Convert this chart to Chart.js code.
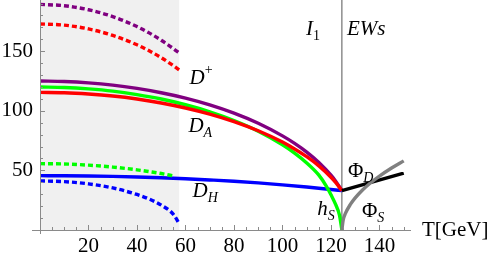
<!DOCTYPE html>
<html><head><meta charset="utf-8">
<script src="https://cdn.jsdelivr.net/npm/chart.js@4/dist/chart.umd.min.js"></script>
<style>html,body{margin:0;padding:0;background:#fff}#wrap{width:498px;height:261px;position:relative}</style>
</head><body><div id="wrap"><canvas id="c"></canvas></div>
<script>
// temperatures (GeV)
const tMain   = [0,10,20,30,40,50,60,70,80,90,100,105,110,115,120,122,124.5];
const dPlus   = [125,124.6,123.5,121.6,118.8,115.2,110.7,105.0,98.1,89.6,79.0,72.7,65.4,56.7,46.0,40.8,33];
const dA      = [115.5,115.2,114.1,112.4,109.9,106.6,102.4,97.3,91.0,83.3,73.8,68.0,61.5,53.8,44.3,39.8,33];
const tGreen  = [0,10,20,30,40,50,60,70,80,90,100,105,110,115,118,120,122,123.5,124.5];
const hS      = [120,119.6,118.4,116.5,113.6,109.9,105.1,99.2,91.9,82.9,71.5,64.5,56.2,46.0,37,29.5,21,12.5,0];
const tBlue   = [0,10,20,30,40,50,60,70,80,90,100,110,120,124.5];
const dH      = [45.6,45.5,45.3,45.0,44.5,43.8,43.0,42.0,40.9,39.5,37.9,36.1,34.0,33];
const tDash   = [0,10,20,30,40,45,50,55,57.5];
const dPlusI  = [189.3,188.2,184.8,179.1,170.7,165.4,159.2,152.2,148.3];
const dAI     = [172.9,171.9,168.7,163.3,155.4,150.4,144.6,137.9,134.2];
const tGreenD = [0,10,20,30,40,45,50,55.5];
const hSI     = [55.7,55.4,54.4,52.8,50.5,49.0,47.4,45.2];
const dHI     = [41.2,40.6,38.7,35.3,29.8,26.0,20.9,13.1,5.0];
const tPhiD   = [124.5,150];
const phiD    = [33,47.8];
const tPhiS   = [124.5,125,126,128,130,133,136,140,145,150];
const phiS    = [0,8.1,14.1,21.5,26.9,33.5,39,45.2,52,58];
const tCrit   = 124.5;
const shadeEnd = 57.5;
const xTicks  = [20,40,60,80,100,120,140];
const yTicks  = [50,100,150];

const pts = (xs, ys) => xs.map((x,i)=>({x, y: ys[i]}));
const X_MAX = 153, Y_MAX = 193;

const line = (data, color, dash, order) => ({
  data, borderColor: color, borderWidth: 3.4, borderDash: dash || [],
  pointRadius: 0, fill: false, cubicInterpolationMode: 'monotone', order: order || 1
});

const datasets = [
  {data: pts([0, shadeEnd], [Y_MAX, Y_MAX]), borderWidth: 0, pointRadius: 0,
   backgroundColor: '#f0f0f0', fill: 'origin', order: 100},
  {data: pts([tCrit, tCrit], [0, Y_MAX]), borderColor: '#555', borderWidth: 1, pointRadius: 0, fill: false, order: 50},
  line(pts(tDash, dPlusI), '#800080', [5,3]),
  line(pts(tDash, dAI), '#ff0000', [5,3]),
  line(pts(tGreenD, hSI), '#00ff00', [5,3]),
  line(pts(tDash, dHI), '#0000ff', [5,3]),
  line(pts(tPhiS, phiS), '#808080', null),
  line(pts(tPhiD, phiD), '#000000', null),
  line(pts(tMain, dA), '#ff0000', null),
  line(pts(tGreen, hS), '#00ff00', null),
  line(pts(tMain, dPlus), '#800080', null),
  line(pts(tBlue, dH), '#0000ff', null),
];

const SERIF = 'Liberation Serif';
Chart.defaults.font.family = SERIF;
const labels = [
  {t: 61.7, v: 122.7, main: 'D', sup: '+'},
  {t: 61.2, v: 82.4, main: 'D', sub: 'A', subItalic: true},
  {t: 62.9, v: 27.7, main: 'D', sub: 'H', subItalic: true},
  {t: 114.3, v: 12.6, main: 'h', sub: 'S', subItalic: true},
  {t: 127.0, v: 44.5, main: 'Φ', mainUpright: true, sub: 'D', subItalic: true},
  {t: 132.8, v: 10.9, main: 'Φ', mainUpright: true, sub: 'S', subItalic: true},
  {t: 109.7, v: 163.9, main: 'I', sub: '1'},
  {t: 126.6, v: 163.9, main: 'EWs'},
];

const overlay = {
  id: 'overlay',
  afterDatasetsDraw(chart) {
    const {ctx, scales: {x, y}} = chart;
    const x0 = x.getPixelForValue(0), y0 = y.getPixelForValue(0);
    ctx.save();
    ctx.strokeStyle = '#8a8a8a';
    ctx.lineWidth = 1;
    ctx.beginPath();
    ctx.moveTo(x0 - 8, y0 + 0.5); ctx.lineTo(x.getPixelForValue(X_MAX), y0 + 0.5);
    ctx.moveTo(x0 + 0.5, y0 + 4); ctx.lineTo(x0 + 0.5, y.getPixelForValue(Y_MAX));
    for (let t = 5; t <= 150; t += 5) {
      const px = Math.round(x.getPixelForValue(t)) + 0.5;
      const len = (t % 20 === 0) ? 5 : 3;
      ctx.moveTo(px, y0); ctx.lineTo(px, y0 - len);
    }
    for (let v = 10; v <= 190; v += 10) {
      const py = Math.round(y.getPixelForValue(v)) + 0.5;
      const len = (v % 50 === 0) ? 5 : 3;
      ctx.moveTo(x0, py); ctx.lineTo(x0 + len, py);
    }
    ctx.stroke();

    ctx.fillStyle = '#000';
    ctx.textBaseline = 'alphabetic';
    ctx.textAlign = 'left';
    for (const L of labels) {
      const px = x.getPixelForValue(L.t), py = y.getPixelForValue(L.v);
      ctx.font = (L.mainUpright ? '' : 'italic ') + '21px "' + SERIF + '"';
      ctx.fillText(L.main, px, py);
      const w = ctx.measureText(L.main).width;
      if (L.sub) {
        ctx.font = (L.subItalic ? 'italic ' : '') + '14px "' + SERIF + '"';
        ctx.fillText(L.sub, px + w, py + 5);
      }
      if (L.sup) {
        ctx.font = '14px "' + SERIF + '"';
        ctx.fillText(L.sup, px + w, py - 10);
      }
    }
    ctx.font = '21px "' + SERIF + '"';
    ctx.fillText('T[GeV]', x.getPixelForValue(X_MAX) + 11, y0 + 6);
    ctx.restore();
  }
};

new Chart(document.getElementById('c'), {
  type: 'line',
  data: {datasets},
  options: {
    responsive: true, maintainAspectRatio: false, animation: false, devicePixelRatio: 1,
    layout: {padding: {left: 0, right: 87, top: 0, bottom: 0}},
    plugins: {legend: {display: false}, tooltip: {enabled: false}},
    scales: {
      x: {type: 'linear', min: 0, max: X_MAX,
        grid: {display: false, drawTicks: false}, border: {display: false},
        afterBuildTicks: s => { s.ticks = xTicks.map(v => ({value: v})); },
        afterFit: s => { s.height = 31; s.paddingLeft = 0; s.paddingRight = 0; },
        ticks: {font: {family: SERIF, size: 21}, color: '#000', padding: 4, maxRotation: 0, autoSkip: false}},
      y: {type: 'linear', min: 0, max: Y_MAX,
        grid: {display: false, drawTicks: false}, border: {display: false},
        afterBuildTicks: s => { s.ticks = yTicks.map(v => ({value: v})); },
        afterFit: s => { s.width = 40; s.paddingTop = 0; s.paddingBottom = 0; },
        ticks: {font: {family: SERIF, size: 21}, color: '#000', padding: 7, autoSkip: false}}
    }
  },
  plugins: [overlay]
});
</script></body></html>
